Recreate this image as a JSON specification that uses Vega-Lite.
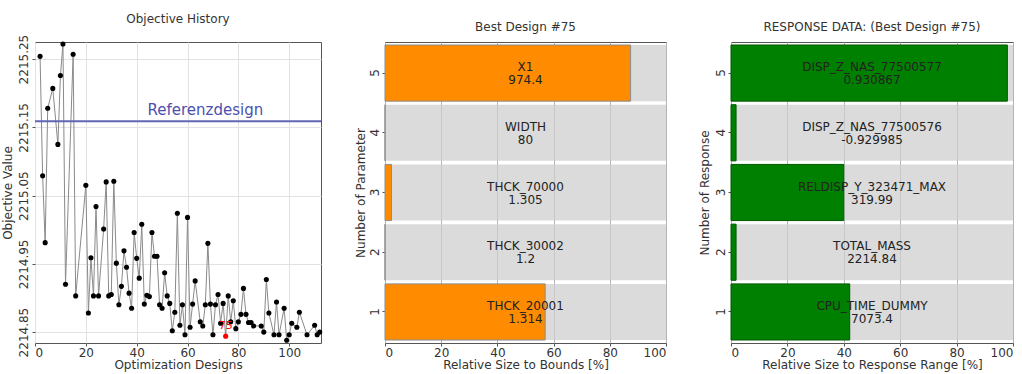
{
  "$schema": "https://vega.github.io/schema/vega-lite/v6.json",
  "padding": {"left": 0, "top": 12, "right": 3, "bottom": 2},
  "spacing": 30,
  "config": {
    "font": "DejaVu Sans",
    "view": {"stroke": "#555555", "strokeWidth": 1},
    "axis": {"grid": true, "gridColor": "#e2e2e2", "domain": false, "tickColor": "#555555", "tickSize": 3, "labelPadding": 1, "titlePadding": 1, "labelFont": "DejaVu Sans", "labelFontSize": 12, "titleFont": "DejaVu Sans", "titleFontSize": 12, "titleFontWeight": "normal", "labelColor": "#333333", "titleColor": "#333333"},
    "title": {"font": "DejaVu Sans", "fontSize": 12, "fontWeight": "normal", "color": "#333333", "offset": 8}
  },
  "hconcat": [
    {
      "title": "Objective History",
      "width": 286,
      "height": 301,
      "layer": [
        {
          "data": {"values": [
            {"design": 2, "objective": 2215.254}, {"design": 3, "objective": 2215.079}, {"design": 4, "objective": 2214.981},
            {"design": 5, "objective": 2215.178}, {"design": 7, "objective": 2215.207}, {"design": 9, "objective": 2215.125},
            {"design": 10, "objective": 2215.226}, {"design": 11, "objective": 2215.272}, {"design": 12, "objective": 2214.920},
            {"design": 15, "objective": 2215.257}, {"design": 16, "objective": 2214.903}, {"design": 20, "objective": 2215.065},
            {"design": 21, "objective": 2214.878}, {"design": 22, "objective": 2214.959}, {"design": 23, "objective": 2214.903},
            {"design": 24, "objective": 2215.034}, {"design": 25, "objective": 2214.903}, {"design": 27, "objective": 2215.001},
            {"design": 28, "objective": 2215.070}, {"design": 29, "objective": 2214.903}, {"design": 30, "objective": 2214.905},
            {"design": 31, "objective": 2215.071}, {"design": 32, "objective": 2214.951}, {"design": 33, "objective": 2214.890},
            {"design": 34, "objective": 2214.917}, {"design": 35, "objective": 2214.969}, {"design": 36, "objective": 2214.945},
            {"design": 37, "objective": 2214.907}, {"design": 38, "objective": 2214.885}, {"design": 39, "objective": 2214.996},
            {"design": 40, "objective": 2214.958}, {"design": 41, "objective": 2214.929}, {"design": 42, "objective": 2215.008},
            {"design": 43, "objective": 2214.891}, {"design": 44, "objective": 2214.904}, {"design": 45, "objective": 2214.902},
            {"design": 46, "objective": 2214.996}, {"design": 47, "objective": 2214.961}, {"design": 48, "objective": 2214.961},
            {"design": 49, "objective": 2214.890}, {"design": 50, "objective": 2214.885}, {"design": 51, "objective": 2214.937},
            {"design": 52, "objective": 2214.903}, {"design": 53, "objective": 2214.892}, {"design": 54, "objective": 2214.852},
            {"design": 55, "objective": 2214.879}, {"design": 56, "objective": 2215.024}, {"design": 57, "objective": 2214.860},
            {"design": 58, "objective": 2214.890}, {"design": 59, "objective": 2214.846}, {"design": 60, "objective": 2215.018},
            {"design": 61, "objective": 2214.857}, {"design": 62, "objective": 2214.891}, {"design": 63, "objective": 2214.925},
            {"design": 65, "objective": 2214.865}, {"design": 66, "objective": 2214.859}, {"design": 67, "objective": 2214.890},
            {"design": 68, "objective": 2214.980}, {"design": 69, "objective": 2214.891}, {"design": 70, "objective": 2214.846},
            {"design": 71, "objective": 2214.890}, {"design": 72, "objective": 2214.905}, {"design": 73, "objective": 2214.863},
            {"design": 74, "objective": 2214.892}, {"design": 75, "objective": 2214.844}, {"design": 76, "objective": 2214.903},
            {"design": 77, "objective": 2214.865}, {"design": 78, "objective": 2214.896}, {"design": 79, "objective": 2214.855},
            {"design": 80, "objective": 2214.865}, {"design": 81, "objective": 2214.876}, {"design": 82, "objective": 2214.914},
            {"design": 83, "objective": 2214.876}, {"design": 84, "objective": 2214.864}, {"design": 85, "objective": 2214.864},
            {"design": 86, "objective": 2214.859}, {"design": 89, "objective": 2214.859}, {"design": 90, "objective": 2214.850},
            {"design": 91, "objective": 2214.927}, {"design": 92, "objective": 2214.878}, {"design": 94, "objective": 2214.846},
            {"design": 95, "objective": 2214.894}, {"design": 96, "objective": 2214.846}, {"design": 98, "objective": 2214.885},
            {"design": 99, "objective": 2214.838}, {"design": 100, "objective": 2214.846}, {"design": 101, "objective": 2214.863},
            {"design": 103, "objective": 2214.857}, {"design": 104, "objective": 2214.879}, {"design": 107, "objective": 2214.846},
            {"design": 110, "objective": 2214.860}, {"design": 111, "objective": 2214.846}, {"design": 112, "objective": 2214.850}
          ]},
          "encoding": {
            "x": {"field": "design", "type": "quantitative", "scale": {"domain": [0, 112.5], "nice": false, "zero": false},
                  "axis": {"title": "Optimization Designs", "values": [0, 20, 40, 60, 80, 100]}},
            "y": {"field": "objective", "type": "quantitative", "scale": {"domain": [2214.834, 2215.275], "nice": false, "zero": false},
                  "axis": {"title": "Objective Value", "values": [2214.85, 2214.95, 2215.05, 2215.15, 2215.25], "format": ".2f", "labelAngle": -90, "labelAlign": "center", "labelBaseline": "bottom", "labelPadding": 2, "titlePadding": 3}}
          },
          "layer": [
            {"mark": {"type": "line", "color": "#8a8a8a", "strokeWidth": 1}},
            {"mark": {"type": "point", "filled": true, "size": 26, "opacity": 1},
             "encoding": {"color": {"condition": {"test": "datum.design == 75", "value": "#ff0000"}, "value": "#000000"}}},
            {"transform": [{"filter": "datum.design == 75"}],
             "mark": {"type": "text", "color": "#ff0000", "fontSize": 11, "dy": -10},
             "encoding": {"text": {"field": "design", "type": "nominal"}}}
          ]
        },
        {
          "data": {"values": [{"reference": 2215.159, "label": "Referenzdesign"}]},
          "encoding": {"y": {"field": "reference", "type": "quantitative"}},
          "layer": [
            {"mark": {"type": "rule", "color": "#6266b6", "strokeWidth": 2}},
            {"mark": {"type": "text", "color": "#4b50b0", "fontSize": 15, "baseline": "bottom", "dy": -3},
             "encoding": {"x": {"datum": 67}, "text": {"field": "label"}}}
          ]
        }
      ]
    },
    {
      "title": "Best Design #75",
      "width": 281,
      "height": 301,
      "data": {"values": [
        {"number": 5, "parameter": "X1", "value": "974.4", "relative": 87.4},
        {"number": 4, "parameter": "WIDTH", "value": "80", "relative": 0},
        {"number": 3, "parameter": "THCK_70000", "value": "1.305", "relative": 2.3},
        {"number": 2, "parameter": "THCK_30002", "value": "1.2", "relative": 0},
        {"number": 1, "parameter": "THCK_20001", "value": "1.314", "relative": 57.0}
      ]},
      "encoding": {
        "y": {"field": "number", "type": "ordinal", "sort": "descending", "scale": {"paddingInner": 0.06, "paddingOuter": 0.05},
              "axis": {"title": "Number of Parameter", "labelAngle": -90, "labelAlign": "center", "labelBaseline": "bottom", "grid": false}}
      },
      "layer": [
        {"mark": {"type": "bar", "fill": "#cfcfcf", "fillOpacity": 0.75},
         "encoding": {"x": {"datum": 100, "type": "quantitative", "scale": {"domain": [0, 100], "nice": false},
                            "axis": {"title": "Relative Size to Bounds [%]", "values": [0, 20, 40, 60, 80, 100], "gridColor": "#b4b4b4"}}}},
        {"mark": {"type": "bar", "fill": "#ff8c00", "stroke": "#8c8c8c", "strokeWidth": 1},
         "encoding": {"x": {"field": "relative", "type": "quantitative"}}},
        {"mark": {"type": "text", "fontSize": 12, "color": "#222222", "dy": -6},
         "encoding": {"x": {"datum": 50, "type": "quantitative"}, "text": {"field": "parameter", "type": "nominal"}}},
        {"mark": {"type": "text", "fontSize": 12, "color": "#222222", "dy": 7},
         "encoding": {"x": {"datum": 50, "type": "quantitative"}, "text": {"field": "value", "type": "nominal"}}}
      ]
    },
    {
      "title": "RESPONSE DATA: (Best Design #75)",
      "width": 282,
      "height": 301,
      "data": {"values": [
        {"number": 5, "response": "DISP_Z_NAS_77500577", "value": "0.930867", "relative": 98.0},
        {"number": 4, "response": "DISP_Z_NAS_77500576", "value": "-0.929985", "relative": 1.8},
        {"number": 3, "response": "RELDISP_Y_323471_MAX", "value": "319.99", "relative": 40.0},
        {"number": 2, "response": "TOTAL_MASS", "value": "2214.84", "relative": 1.8},
        {"number": 1, "response": "CPU_TIME_DUMMY", "value": "7073.4", "relative": 42.1}
      ]},
      "encoding": {
        "y": {"field": "number", "type": "ordinal", "sort": "descending", "scale": {"paddingInner": 0.06, "paddingOuter": 0.05},
              "axis": {"title": "Number of Response", "labelAngle": -90, "labelAlign": "center", "labelBaseline": "bottom", "grid": false, "titlePadding": 3}}
      },
      "layer": [
        {"mark": {"type": "bar", "fill": "#cfcfcf", "fillOpacity": 0.75},
         "encoding": {"x": {"datum": 100, "type": "quantitative", "scale": {"domain": [0, 100], "nice": false},
                            "axis": {"title": "Relative Size to Response Range [%]", "values": [0, 20, 40, 60, 80, 100], "gridColor": "#b4b4b4"}}}},
        {"mark": {"type": "bar", "fill": "#008000", "stroke": "#005a00", "strokeWidth": 1},
         "encoding": {"x": {"field": "relative", "type": "quantitative"}}},
        {"mark": {"type": "text", "fontSize": 12, "color": "#222222", "dy": -6},
         "encoding": {"x": {"datum": 50, "type": "quantitative"}, "text": {"field": "response", "type": "nominal"}}},
        {"mark": {"type": "text", "fontSize": 12, "color": "#222222", "dy": 7},
         "encoding": {"x": {"datum": 50, "type": "quantitative"}, "text": {"field": "value", "type": "nominal"}}}
      ]
    }
  ]
}
